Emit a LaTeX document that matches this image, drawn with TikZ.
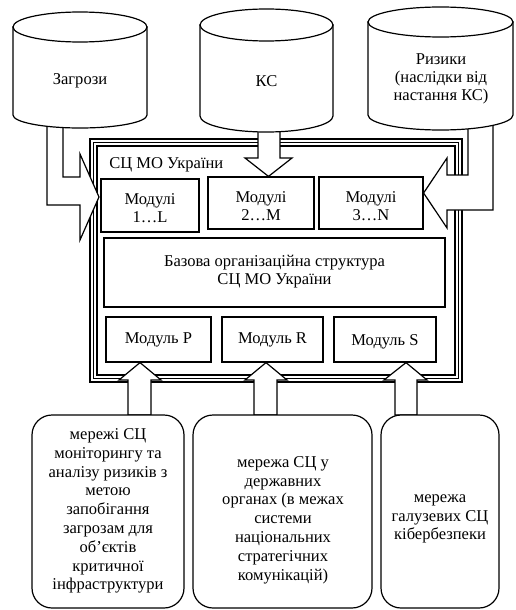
\documentclass[tikz,border=0pt]{standalone}
\usepackage{fontspec}
\setmainfont{Liberation Serif}
\usetikzlibrary{fit}
\begin{document}
\begin{tikzpicture}[x=0.75pt,y=-0.75pt,
  every node/.style={font=\fontsize{12.4}{13.6}\selectfont},
  ln/.style={line width=0.9pt},
  box/.style={draw, line width=0.9pt, fill=white, inner sep=0pt},
  rbox/.style={box, rounded corners=15pt},
  barrow/.style={draw, line width=0.9pt, fill=white, line join=miter},
  cyl/.style={draw, line width=0.9pt, fill=white},
  txt/.style={align=center, inner sep=0pt},
  btxt/.style={txt, font=\fontsize{12.4}{14.1}\selectfont}]
\path[use as bounding box] (0,0) rectangle (515,610);

% outer frame (triple line)
\draw[ln] (90,139) rectangle (462,382);
\draw[ln] (93.5,142.5) rectangle (458.5,378.5);
\draw[ln] (97,146) rectangle (455,375);
\node[txt, anchor=west] (lbl) at (109,165) {СЦ МО України};

% modules
\node[box, fit={(101,179) (199,232)}] (m1) {};
\node[box, fit={(208,177) (314,229)}] (m2) {};
\node[box, fit={(319,177) (423,229)}] (m3) {};
\node[box, line width=2.2pt, fit={(104,238) (445,307)}] (base) {};
\node[box, fit={(106,317) (211,362)}] (mP) {};
\node[box, fit={(222,317) (323,362)}] (mR) {};
\node[box, fit={(334,317) (436,362)}] (mS) {};
\node[txt] (m1t) at (150,208) {Модулі\\1…L};
\node[txt] (m2t) at (261,206) {Модулі\\2…M};
\node[txt] (m3t) at (371,206) {Модулі\\3…N};
\node[txt] (baset) at (274.5,271.5) {Базова організаційна структура\\СЦ МО України};
\node[txt] (mPt) at (158.5,340) {Модуль P};
\node[txt] (mRt) at (272.5,340) {Модуль R};
\node[txt] (mSt) at (385,342) {Модуль S};

% block arrows from the cylinders
\filldraw[barrow] (47,112) -- (47,205) -- (80,205) -- (80,240) -- (99,197) -- (80,154) -- (80,177) -- (63,177) -- (63,112) -- cycle;
\filldraw[barrow] (258,112) -- (258,158) -- (245,158) -- (268.5,0 |- m2.north) -- (292,158) -- (280,158) -- (280,112) -- cycle;
\filldraw[barrow] (468,112) -- (468,175) -- (447,175) -- (447,158) -- (m3.east |- 0,193) -- (447,228) -- (447,210) -- (493,210) -- (493,112) -- cycle;

% cylinders
\filldraw[cyl] (13,27) -- (13,115) arc[start angle=180, end angle=0, x radius=67, y radius=13] -- (147,27) -- cycle;
\filldraw[cyl] (80,27) ellipse[x radius=67, y radius=15];
\filldraw[cyl] (200,25) -- (200,116) arc[start angle=180, end angle=0, x radius=66.5, y radius=16] -- (333,25) -- cycle;
\filldraw[cyl] (266.5,25) ellipse[x radius=66.5, y radius=16];
\filldraw[cyl] (368,22) -- (368,115) arc[start angle=180, end angle=0, x radius=72.5, y radius=15] -- (513,22) -- cycle;
\filldraw[cyl] (440.5,22) ellipse[x radius=72.5, y radius=15];
\node[txt] (c1) at (80,81) {Загрози};
\node[txt] (c2) at (266.5,81) {КС};
\node[txt] (c3) at (441,79) {Ризики\\(наслідки від\\настання КС)};

% bottom arrows
\filldraw[barrow] (128,415) -- (128,380) -- (119,380) -- (140,0 |- mP.south) -- (161,380) -- (151,380) -- (151,415) -- cycle;
\filldraw[barrow] (254,415) -- (254,380) -- (245,380) -- (266,0 |- mR.south) -- (287,380) -- (277,380) -- (277,415) -- cycle;
\filldraw[barrow] (395,415) -- (395,380) -- (384,380) -- (406,0 |- mS.south) -- (427,380) -- (417,380) -- (417,415) -- cycle;

% bottom boxes
\node[rbox, fit={(32,415) (184,608)}] (n1) {};
\node[rbox, fit={(193,415) (372,608)}] (n2) {};
\node[rbox, fit={(381,415) (499,608)}] (n3) {};
\node[btxt] (t1) at (108,511) {мережі СЦ\\моніторингу та\\аналізу ризиків з\\метою\\запобігання\\загрозам для\\об’єктів\\критичної\\інфраструктури};
\node[btxt] (t2) at (283,520) {мережа СЦ у\\державних\\органах (в межах\\системи\\національних\\стратегічних\\комунікацій)};
\node[btxt] (t3) at (440,519) {мережа\\галузевих СЦ\\кібербезпеки};
\end{tikzpicture}
\end{document}
